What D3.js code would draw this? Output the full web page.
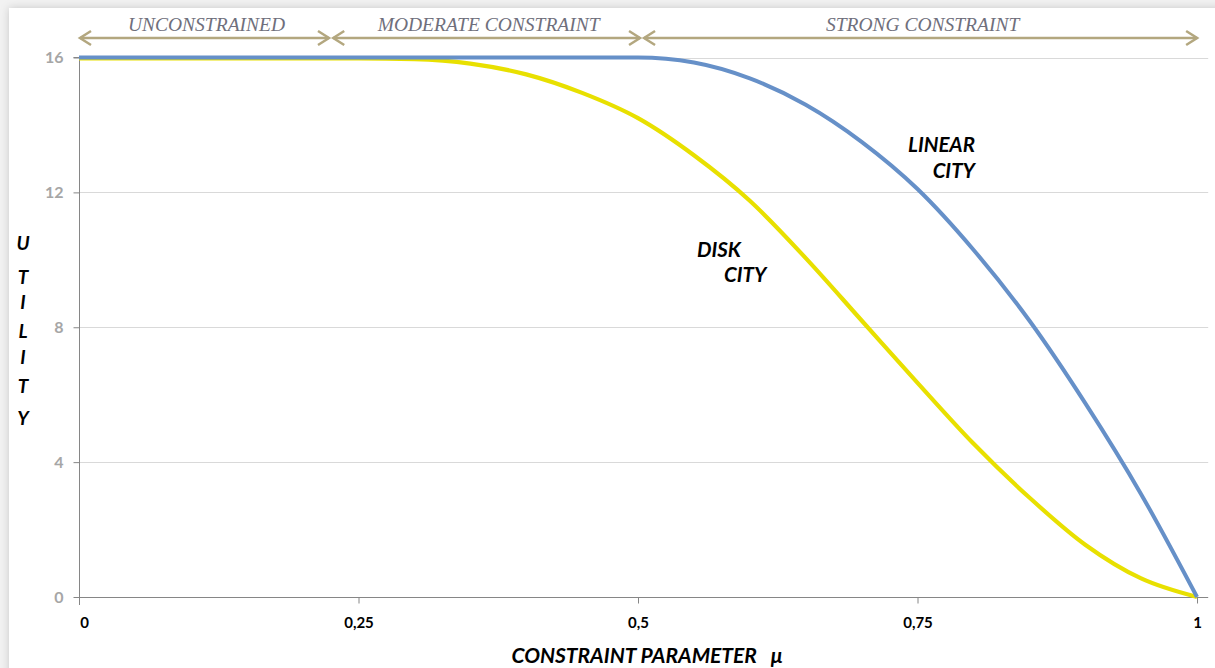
<!DOCTYPE html>
<html>
<head>
<meta charset="utf-8">
<script src="https://cdn.jsdelivr.net/npm/d3@7/dist/d3.min.js"></script>
<style>
  html, body { margin: 0; padding: 0; background: #fff; }
  svg { display: block; }
</style>
</head>
<body>
<svg id="chart" width="1215" height="668"></svg>
<script>
// ---- data ----
const mu = [0, 0.05, 0.1, 0.15, 0.2, 0.25, 0.3, 0.35, 0.4, 0.45, 0.5,
            0.55, 0.6, 0.65, 0.7, 0.75, 0.8, 0.85, 0.9, 0.95, 1];
const linearCity = [16, 16, 16, 16, 16, 16, 16, 16, 16, 16, 16,
                    15.85, 15.38, 14.6, 13.5, 12.1, 10.3, 8.2, 5.75, 3.05, 0];
const diskCity = [15.97, 15.97, 15.97, 15.97, 15.97, 15.97, 15.95, 15.82, 15.5, 14.95, 14.2,
                  13.1, 11.75, 10.05, 8.2, 6.35, 4.55, 2.95, 1.55, 0.55, 0];
const xTicks = [0, 0.25, 0.5, 0.75, 1];
const xTickLabels = ["0", "0,25", "0,5", "0,75", "1"];
const yTicks = [0, 4, 8, 12, 16];
const regionLabels = ["UNCONSTRAINED", "MODERATE CONSTRAINT", "STRONG CONSTRAINT"];
const regionStart = [0, 0.2265, 0.5045];
const regionEnd = [0.2245, 0.5027, 1.001];

// ---- setup ----
const svg = d3.select("#chart");
const W = 1215, H = 668;

const defs = svg.append("defs");
const f = defs.append("filter").attr("id", "shadow")
  .attr("x", "-5%").attr("y", "-5%").attr("width", "110%").attr("height", "110%");
f.append("feDropShadow").attr("dx", 0).attr("dy", 0).attr("stdDeviation", 4)
  .attr("flood-color", "#000").attr("flood-opacity", 0.18);

svg.append("rect").attr("x", 0).attr("y", 0).attr("width", W).attr("height", H).attr("fill", "#f2f2f2");
svg.append("rect").attr("x", 9).attr("y", 8).attr("width", W + 20).attr("height", H + 20)
  .attr("fill", "#fff").attr("filter", "url(#shadow)");

const x = d3.scaleLinear().domain([0, 1.01]).range([79, 1208.2]);
const y = d3.scaleLinear().domain([0, 16]).range([597, 57.5]);

// gridlines
svg.append("g").selectAll("line").data(yTicks.filter(d => d > 0)).join("line")
  .attr("x1", x(0)).attr("x2", x(1.01))
  .attr("y1", d => Math.round(y(d)) + 0.5).attr("y2", d => Math.round(y(d)) + 0.5)
  .attr("stroke", "#d9d9d9").attr("stroke-width", 1);

// y axis
const yAxis = d3.axisLeft(y).tickValues(yTicks).tickSize(6).tickPadding(10).tickFormat(d3.format("d"));
const gy = svg.append("g").attr("transform", `translate(${Math.round(x(0)) + 0.5},0)`).call(yAxis);
gy.select(".domain").attr("stroke", "#868686").attr("d", `M-6,${y(16)}H0V${y(0) + 8}`);
gy.selectAll(".tick line").attr("stroke", "#868686");
gy.selectAll(".tick text").attr("fill", "#a6a6a6")
  .style("font-family", "Lato, 'Open Sans', sans-serif").style("font-weight", "bold").style("font-size", "16px");

// x axis
const xAxis = d3.axisBottom(x).tickValues(xTicks).tickSize(6).tickPadding(14)
  .tickFormat((d, i) => xTickLabels[i]);
const gx = svg.append("g").attr("transform", `translate(0,${Math.round(y(0)) + 0.5})`).call(xAxis);
gx.select(".domain").attr("stroke", "#868686").attr("d", `M${x(0)},0H${x(1.01)}`);
gx.selectAll(".tick line").attr("stroke", "#868686");
gx.selectAll(".tick text").attr("fill", "#000")
  .attr("dx", (d, i) => i === 0 ? 5 : 0)
  .style("font-family", "Lato, 'Open Sans', sans-serif").style("font-weight", "bold").style("font-size", "15px");

// lines
const line = d3.line().x(d => x(d[0])).y(d => y(d[1])).curve(d3.curveMonotoneX);
svg.append("path").datum(mu.map((m, i) => [m, diskCity[i]]))
  .attr("d", line).attr("fill", "none").attr("stroke", "#e8e000").attr("stroke-width", 4.2);
svg.append("path").datum(mu.map((m, i) => [m, linearCity[i]]))
  .attr("d", line).attr("fill", "none").attr("stroke", "#6690c8").attr("stroke-width", 4);

// region arrows
const arrowColor = "#b3a77f";
const ay = 38;
const ga = svg.append("g");
regionLabels.forEach((lab, i) => {
  const x1 = x(regionStart[i]), x2 = x(regionEnd[i]);
  ga.append("line").attr("x1", x1 + 1).attr("x2", x2 - 1).attr("y1", ay).attr("y2", ay)
    .attr("stroke", arrowColor).attr("stroke-width", 2.5);
  ga.append("path").attr("d", `M${x1 + 12},${ay - 7}L${x1 + 1},${ay}L${x1 + 12},${ay + 7}`)
    .attr("fill", "none").attr("stroke", arrowColor).attr("stroke-width", 2.5);
  ga.append("path").attr("d", `M${x2 - 12},${ay - 7}L${x2 - 1},${ay}L${x2 - 12},${ay + 7}`)
    .attr("fill", "none").attr("stroke", arrowColor).attr("stroke-width", 2.5);
  ga.append("text").attr("x", (x1 + x2) / 2 + 2).attr("y", 31).attr("text-anchor", "middle")
    .attr("fill", "#6f6f7c")
    .style("font-family", "'Liberation Serif', 'DejaVu Serif', serif").style("font-style", "italic")
    .style("font-size", "19.5px").text(lab);
});

// annotations
const annFont = g => g.attr("fill", "#000")
  .style("font-family", "Lato, 'Open Sans', sans-serif").style("font-weight", "bold")
  .style("font-style", "italic").style("font-size", "20.5px");
svg.append("text").attr("x", 975).attr("y", 152).attr("text-anchor", "end").call(annFont).text("LINEAR");
svg.append("text").attr("x", 975).attr("y", 178).attr("text-anchor", "end").call(annFont).text("CITY");
svg.append("text").attr("x", 697).attr("y", 257).call(annFont).text("DISK");
svg.append("text").attr("x", 724).attr("y", 282).call(annFont).text("CITY");

// axis titles
svg.append("text").attr("x", 647).attr("y", 663).attr("text-anchor", "middle").call(annFont)
  .style("font-size", "21px").attr("xml:space", "preserve").text("CONSTRAINT PARAMETER   \u03bc");
const yLetters = "UTILITY".split("");
const yPos = [243, 277, 302, 331, 357, 386, 418];
svg.append("g").selectAll("text").data(yLetters).join("text")
  .attr("x", 23).attr("y", (d, i) => yPos[i] + 7).attr("text-anchor", "middle")
  .call(annFont).style("font-size", "19px").text(d => d);
</script>
</body>
</html>
